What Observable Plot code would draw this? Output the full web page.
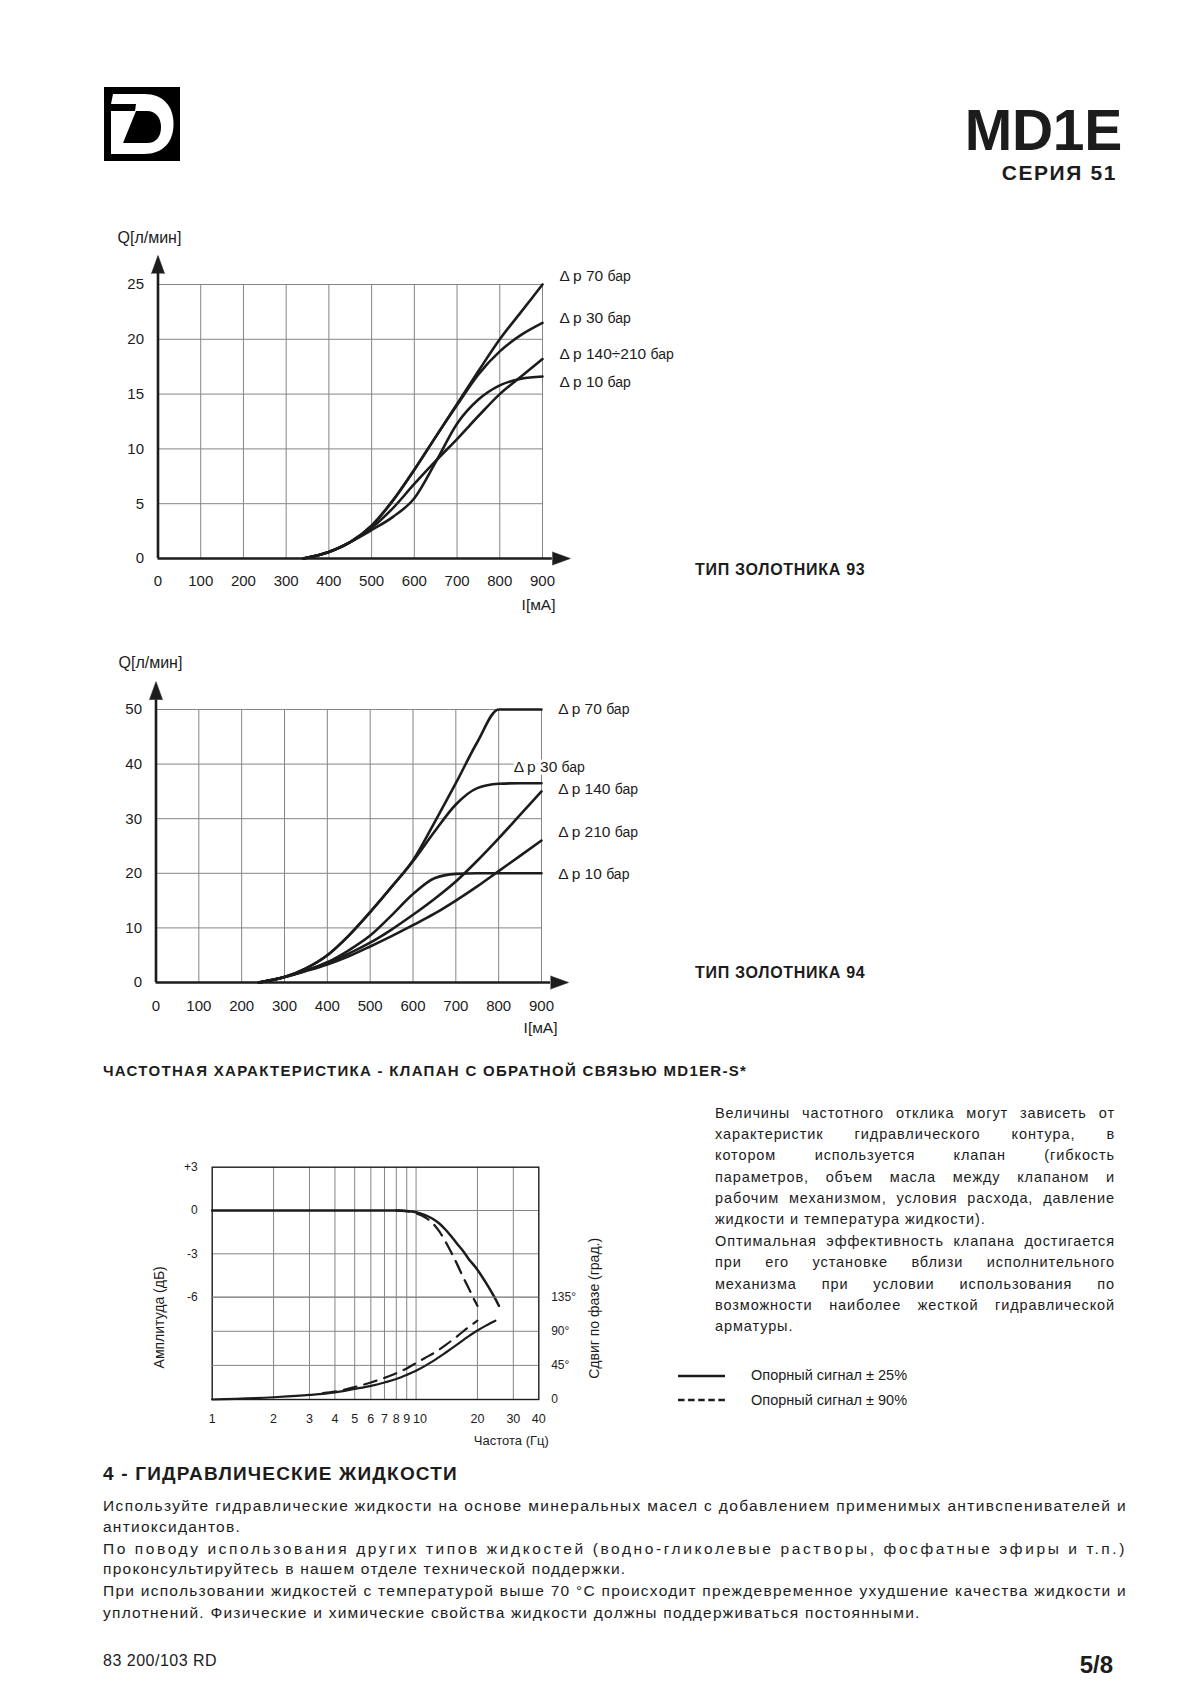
<!DOCTYPE html>
<html lang="ru">
<head>
<meta charset="utf-8">
<title>MD1E – серия 51</title>
<script src="https://cdn.jsdelivr.net/npm/d3@7"></script>
<script src="https://cdn.jsdelivr.net/npm/@observablehq/plot@0.6"></script>
<style>
html,body{margin:0;padding:0;background:#fff;}
#page{position:relative;width:1200px;height:1698px;overflow:hidden;background:#fff;font-family:"Liberation Sans",Arial,Helvetica,sans-serif;color:#1c1c1c;}
.t{position:absolute;white-space:nowrap;line-height:1;}
.jl{position:absolute;line-height:1;white-space:nowrap;text-align:justify;text-align-last:justify;}
.abs{position:absolute;}
</style>
</head>
<body>
<div id="page"></div>
<script>
// ================= DATA =================
// Spool type 93: flow Q [l/min] vs current I [mA]
const s93Current = [340, 400, 450, 500, 550, 600, 650, 700, 750, 800, 850, 900];
const s93Dp70    = [0, 0.6, 1.5, 3.0, 5.3, 8.1, 11.1, 14.1, 17.1, 20.0, 22.5, 25.0];
const s93Dp30    = [0, 0.6, 1.5, 3.0, 5.3, 8.1, 11.1, 14.0, 16.8, 18.9, 20.4, 21.5];
const s93Dp140   = [0, 0.6, 1.5, 2.8, 4.6, 6.8, 8.9, 10.9, 13.0, 15.0, 16.6, 18.2];
const s93Dp10    = [0, 0.6, 1.5, 2.6, 3.8, 5.5, 8.8, 12.3, 14.5, 15.8, 16.4, 16.6];
const s93Names   = ["Δp 70 бар", "Δp 30 бар", "Δp 140÷210 бар", "Δp 10 бар"];

// Spool type 94
const s94Current = [240, 300, 350, 400, 450, 500, 550, 600, 650, 700, 750, 800, 850, 900];
const s94Dp70    = [0, 1.0, 2.6, 5.0, 8.6, 12.9, 17.5, 22.4, 29.3, 36.5, 44.0, 50, 50, 50];
const s94Dp30    = [0, 1.0, 2.6, 5.0, 8.6, 12.9, 17.5, 22.2, 27.6, 32.6, 35.6, 36.4, 36.5, 36.5];
const s94Dp140   = [0, 1.0, 2.2, 3.6, 5.3, 7.3, 9.7, 12.4, 15.3, 18.5, 22.3, 26.4, 30.7, 35.0];
const s94Dp210   = [0, 1.0, 2.1, 3.3, 4.8, 6.6, 8.5, 10.5, 12.6, 15.0, 17.6, 20.4, 23.2, 26.0];
const s94Dp10    = [0, 1.0, 2.2, 3.7, 5.9, 8.6, 12.3, 16.2, 19.1, 19.9, 20, 20, 20, 20];
const s94Names   = ["Δp 70 бар", "Δp 30 бар", "Δp 140 бар", "Δp 210 бар", "Δp 10 бар"];

const currentTicks = [0, 100, 200, 300, 400, 500, 600, 700, 800, 900];
const flow93Ticks  = [0, 5, 10, 15, 20, 25];
const flow94Ticks  = [0, 10, 20, 30, 40, 50];

// Frequency response (MD1ER-S*)
const freqAmpSolid  = [1, 2, 4, 8, 9, 10, 11, 12, 13, 14, 15, 16, 17, 18, 20, 22, 24, 25.5];
const ampSolid      = [0, 0, 0, 0, -0.03, -0.12, -0.3, -0.55, -0.9, -1.35, -1.85, -2.35, -2.8, -3.3, -4.1, -5.0, -5.9, -6.6];
const freqAmpDash   = [8, 9, 10, 11, 12, 13, 14, 15, 16, 17, 18, 19, 20];
const ampDash       = [0, -0.05, -0.2, -0.45, -0.85, -1.45, -2.2, -3.0, -3.8, -4.6, -5.3, -6.0, -6.6];
const freqPhSolid   = [1, 2, 3, 4, 5, 6, 7, 8, 9, 10, 12, 14, 16, 18, 20, 22, 24.5];
const phaseSolid    = [0, 3, 6, 9.5, 14, 18, 22.5, 27, 32.5, 38, 50, 62, 73, 83, 91, 97.5, 104];
const freqPhDash    = [3.5, 4, 5, 6, 7, 8, 9, 10, 11, 12, 14, 16, 18, 20];
const phaseDash     = [8.5, 10.5, 16.5, 22.5, 28.5, 34.5, 41, 48, 54.5, 60, 72, 84, 95, 104];

const freqTicks   = [1, 2, 3, 4, 5, 6, 7, 8, 9, 10, 20, 30, 40];
const freqGrid    = [2, 3, 4, 5, 6, 7, 8, 9, 10, 20, 30];
const ampTicks    = [3, 0, -3, -6];
const phaseTicks  = [0, 45, 90, 135];

// Texts
const paraLines = [
  "Величины частотного отклика могут зависеть от",
  "характеристик гидравлического контура, в",
  "котором используется клапан (гибкость",
  "параметров, объем масла между клапаном и",
  "рабочим механизмом, условия расхода, давление",
  "жидкости и температура жидкости).",
  "Оптимальная эффективность клапана достигается",
  "при его установке вблизи исполнительного",
  "механизма при условии использования по",
  "возможности наиболее жесткой гидравлической",
  "арматуры."
];
const paraLast = [5, 10];
const bodyLines = [
  "Используйте гидравлические жидкости на основе минеральных масел с добавлением применимых антивспенивателей и",
  "антиоксидантов.",
  "По поводу использования других типов жидкостей (водно-гликолевые растворы, фосфатные эфиры и т.п.)",
  "проконсультируйтесь в нашем отделе технической поддержки.",
  "При использовании жидкостей с температурой выше 70 °C происходит преждевременное ухудшение качества жидкости и",
  "уплотнений. Физические и химические свойства жидкости должны поддерживаться постоянными."
];
const bodyLast = [1, 3, 5];
const legendItems = ["Опорный сигнал ± 25%", "Опорный сигнал ± 90%"];

// ================= LAYOUT / STYLE =================
const FONT = '"Liberation Sans", Arial, Helvetica, sans-serif';
const INK = "#1c1c1c";
const GRID = "#858585";
const page = document.getElementById("page");

function txt(s, o) {
  const d = document.createElement("div");
  d.className = o.justify ? "jl" : "t";
  d.textContent = s;
  d.style.fontSize = o.size + "px";
  d.style.fontWeight = o.bold ? "700" : "400";
  if (o.ls) d.style.letterSpacing = o.ls + "px";
  d.style.top = (o.base - 0.8465 * o.size) + "px";
  if (o.right != null) d.style.right = (1200 - o.right) + "px"; else d.style.left = o.x + "px";
  if (o.width) d.style.width = o.width + "px";
  page.appendChild(d);
  return d;
}
// line filled to a width by letter spacing (measured)
function fillLine(s, o) {
  const d = txt(s, {...o, justify: false, width: null});
  const w = d.getBoundingClientRect().width;
  const n = [...s].length;
  const ls = (o.ls || 0) + (o.width - w) / n;
  d.style.letterSpacing = ls + "px";
  return d;
}
function place(el, left, top) {
  const w = document.createElement("div");
  w.className = "abs";
  w.style.left = left + "px";
  w.style.top = top + "px";
  w.appendChild(el);
  page.appendChild(w);
  return w;
}

// Logo
(function logo() {
  const ns = "http://www.w3.org/2000/svg";
  const s = document.createElementNS(ns, "svg");
  s.setAttribute("width", 76); s.setAttribute("height", 74);
  s.setAttribute("viewBox", "0 0 76 74");
  s.innerHTML =
    '<rect x="0" y="0" width="76" height="74" fill="#000"/>' +
    '<path fill="#fff" d="M9,7 L40,7 C60,7 69.5,20 69.5,37 C69.5,55 59,67 40,67 L7,67 L7,17 Z"/>' +
    '<path fill="#000" d="M7,17 L7,24 L31,24 L32,17 Z"/>' +
    '<path fill="#000" d="M32,24 L43,24 C52,24 57,31 57,40 C57,50 52,56 43,56 L19,56 Z"/>';
  place(s, 104, 87);
})();

txt("MD1E", {right: 1122, base: 150, size: 57, bold: true, ls: -0.3});
txt("СЕРИЯ 51", {right: 1117, base: 180, size: 21, bold: true, ls: 1.6});

function headSpike(x, y, rotate) {
  try {
    return Plot.vector([0], {x: () => x, y: () => y, rotate, length: 18, r: 6.5,
      shape: "spike", anchor: "start", fill: INK, stroke: INK, strokeWidth: 0.6});
  } catch (e) {
    return Plot.dot([0], {x: () => x, y: () => y, symbol: "triangle2", r: 7, rotate, fill: INK, dx: rotate ? 6 : 0, dy: rotate ? 0 : -6});
  }
}

function smallBar(svg) {
  svg.querySelectorAll("text").forEach(t => {
    const s = t.textContent;
    if (t.childElementCount === 0 && s.endsWith(" бар")) {
      t.textContent = s.slice(0, -3).replace("Δp", "Δ\u2009p");
      const ts = document.createElementNS("http://www.w3.org/2000/svg", "tspan");
      ts.setAttribute("font-size", "14");
      ts.textContent = "бар";
      t.appendChild(ts);
    }
  });
}

function flowChart(cfg) {
  const rows = [];
  cfg.series.forEach((vals, k) => cfg.current.forEach((I, i) => rows.push({series: cfg.names[k], I, Q: vals[i]})));
  const labels = cfg.names.map((n, k) => ({text: n, x: cfg.labelX[k], y: cfg.labelY[k]}));
  const svg = Plot.plot({
    width: 640, height: 400,
    marginLeft: cfg.ml, marginRight: cfg.mr, marginTop: cfg.mt, marginBottom: cfg.mb,
    x: {domain: [0, 900]},
    y: {domain: [0, cfg.yTicks[cfg.yTicks.length - 1]]},
    style: {fontFamily: FONT, fontSize: "15px", color: INK, background: "transparent", overflow: "visible"},
    marks: [
      Plot.gridX(currentTicks.filter(d => d > 0), {stroke: GRID, strokeOpacity: 1, strokeWidth: 1}),
      Plot.gridY(cfg.yTicks.filter(d => d > 0), {stroke: GRID, strokeOpacity: 1, strokeWidth: 1}),
      Plot.axisX(currentTicks, {tickSize: 0, tickPadding: cfg.xPad, fontSize: 15, label: null, tickFormat: d => String(d)}),
      Plot.axisY(cfg.yTicks, {tickSize: 0, tickPadding: 14, fontSize: 15, label: null, tickFormat: d => String(d)}),
      Plot.line(rows, {x: "I", y: "Q", z: "series", curve: "monotone-x", stroke: INK, strokeWidth: 2.6}),
      Plot.ruleY([0], {x1: () => 0, x2: () => cfg.xEnd, stroke: INK, strokeWidth: 2.6}),
      Plot.ruleX([0], {y1: () => 0, y2: () => cfg.yEnd, stroke: INK, strokeWidth: 2.6}),
      headSpike(cfg.xEnd, 0, 90),
      headSpike(0, cfg.yEnd, 0),
      Plot.text(labels, {x: "x", y: "y", text: "text", textAnchor: "start", lineAnchor: "middle",
        fontSize: 15.5, fill: INK, stroke: "white", strokeWidth: 6, paintOrder: "stroke"}),
      Plot.text(["Q[л/мин]"], {frameAnchor: "top-left", dx: cfg.qdx, dy: cfg.qdy, textAnchor: "start", lineAnchor: "middle", fontSize: 16}),
      Plot.text(["I[мА]"], {frameAnchor: "bottom-right", dx: cfg.idx, dy: cfg.idy, textAnchor: "end", lineAnchor: "middle", fontSize: 15.5})
    ]
  });
  smallBar(svg);
  return svg;
}

place(flowChart({
  current: s93Current, series: [s93Dp70, s93Dp30, s93Dp140, s93Dp10], names: s93Names,
  labelX: [940, 940, 940, 940], labelY: [25.8, 21.9, 18.7, 16.1],
  yTicks: flow93Ticks, ml: 67.5, mr: 188, mt: 64, mb: 62, xPad: 16.5,
  xEnd: 923, yEnd: 26.0, qdx: -40.5, qdy: -47, idx: 13, idy: 47
}), 90, 220);

place(flowChart({
  current: s94Current, series: [s94Dp70, s94Dp30, s94Dp140, s94Dp210, s94Dp10], names: s94Names,
  labelX: [939, 835, 939, 939, 939], labelY: [50, 39.4, 35.4, 27.6, 19.8],
  yTicks: flow94Ticks, ml: 65.5, mr: 189, mt: 69, mb: 58, xPad: 17.5,
  xEnd: 921, yEnd: 51.8, qdx: -37.5, qdy: -47, idx: 16, idy: 46
}), 90, 640);

txt("ТИП ЗОЛОТНИКА 93", {x: 695, base: 575.5, size: 16, bold: true, ls: 0.7});
txt("ТИП ЗОЛОТНИКА 94", {x: 695, base: 978.5, size: 16, bold: true, ls: 0.7});
txt("ЧАСТОТНАЯ ХАРАКТЕРИСТИКА - КЛАПАН С ОБРАТНОЙ СВЯЗЬЮ MD1ER-S*", {x: 103, base: 1076, size: 15, bold: true, ls: 1.3});

// Frequency response chart: amplitude + phase overlaid with shared x
const toRows = (fs, vs) => fs.map((f, i) => ({f, v: vs[i]}));
const dims = {width: 500, height: 320, marginLeft: 81.7, marginRight: 91.7, marginTop: 26.7, marginBottom: 61};
const st = {fontFamily: FONT, fontSize: "12px", color: INK, background: "transparent", overflow: "visible"};

const ampSvg = Plot.plot({
  ...dims,
  x: {type: "log", domain: [1, 40], axis: null},
  y: {domain: [-13.09, 3], axis: null},
  style: st,
  marks: [
    Plot.gridX(freqGrid, {stroke: GRID, strokeOpacity: 1, strokeWidth: 1}),
    Plot.gridY([0, -3, -6], {stroke: GRID, strokeOpacity: 1, strokeWidth: 1}),
    Plot.frame({stroke: INK, strokeWidth: 1.4}),
    Plot.text(freqTicks.filter(d => d !== 10), {x: d => d, text: d => String(d), frameAnchor: "bottom", dy: 19.3, lineAnchor: "middle", fontSize: 12.5}),
    Plot.text([10], {x: d => d, text: d => String(d), frameAnchor: "bottom", dx: 4, dy: 19.3, lineAnchor: "middle", fontSize: 12.5}),
    Plot.text(ampTicks, {y: d => d, text: d => d > 0 ? "+" + d : String(d), frameAnchor: "left", dx: -14.5, textAnchor: "end", lineAnchor: "middle", fontSize: 12}),
    Plot.line(toRows(freqAmpSolid, ampSolid), {x: "f", y: "v", curve: "monotone-x", stroke: INK, strokeWidth: 2.5}),
    Plot.line(toRows(freqAmpDash, ampDash), {x: "f", y: "v", curve: "monotone-x", stroke: INK, strokeWidth: 2.3, strokeDasharray: "13,8"}),
    Plot.text(["Амплитуда (дБ)"], {frameAnchor: "left", dx: -53, dy: 34, rotate: -90, textAnchor: "middle", lineAnchor: "middle", fontSize: 14}),
    Plot.text(["Частота (Гц)"], {frameAnchor: "bottom-right", dx: 10, dy: 41, textAnchor: "end", lineAnchor: "middle", fontSize: 13})
  ]
});
const phSvg = Plot.plot({
  ...dims,
  x: {type: "log", domain: [1, 40], axis: null},
  y: {domain: [0, 306.5], axis: null},
  style: st,
  marks: [
    Plot.gridY([45, 90, 135], {stroke: GRID, strokeOpacity: 1, strokeWidth: 1}),
    Plot.text(phaseTicks, {y: d => d, text: d => d === 0 ? "0" : d + "°", frameAnchor: "right", dx: 12.4, textAnchor: "start", lineAnchor: "middle", fontSize: 12}),
    Plot.line(toRows(freqPhSolid, phaseSolid), {x: "f", y: "v", curve: "monotone-x", stroke: INK, strokeWidth: 2.2}),
    Plot.line(toRows(freqPhDash, phaseDash), {x: "f", y: "v", curve: "monotone-x", stroke: INK, strokeWidth: 2.2, strokeDasharray: "13,8"}),
    Plot.text(["Сдвиг по фазе (град.)"], {frameAnchor: "right", dx: 56, dy: 25, rotate: -90, textAnchor: "middle", lineAnchor: "middle", fontSize: 14})
  ]
});
place(ampSvg, 130, 1140);
place(phSvg, 130, 1140);

// Paragraph to the right
paraLines.forEach((s, i) => {
  txt(s, {x: 715, base: 1118 + i * 21.35, size: 14.5, ls: 0.9, width: 400, justify: !paraLast.includes(i)});
});

// Legend
(function legend() {
  const ns = "http://www.w3.org/2000/svg";
  const s = document.createElementNS(ns, "svg");
  s.setAttribute("width", 60); s.setAttribute("height", 40);
  s.innerHTML =
    '<line x1="2" x2="49" y1="6" y2="6" stroke="' + INK + '" stroke-width="2.4"/>' +
    '<line x1="2" x2="49" y1="30" y2="30" stroke="' + INK + '" stroke-width="2.4" stroke-dasharray="6.5,3.6"/>';
  place(s, 676, 1370);
})();
legendItems.forEach((s, i) => txt(s, {x: 751, base: 1380 + i * 25, size: 14.5}));

// Section 4
txt("4 - ГИДРАВЛИЧЕСКИЕ ЖИДКОСТИ", {x: 103, base: 1480.5, size: 19, bold: true, ls: 1.2});
const bodyBase = [1511.5, 1532.5, 1554, 1574.5, 1596.5, 1618];
bodyLines.forEach((s, i) => {
  const o = {x: 103, base: bodyBase[i], size: 15.5, ls: 1.25, width: 1024};
  if (bodyLast.includes(i)) txt(s, {...o, width: null}); else fillLine(s, o);
});

txt("83 200/103 RD", {x: 103, base: 1667, size: 16, ls: 0.5});
txt("5/8", {right: 1113, base: 1673, size: 24, bold: true});
</script>
</body>
</html>
